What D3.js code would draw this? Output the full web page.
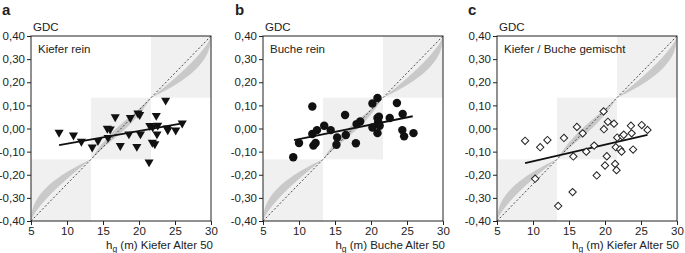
<!DOCTYPE html>
<html><head><meta charset="utf-8">
<script src="https://cdn.jsdelivr.net/npm/d3@7"></script>
<style>body{margin:0;background:#fff} svg text{font-family:"Liberation Sans",Arial,sans-serif;fill:#222}</style>
</head><body><svg id="chart" width="685" height="253"></svg>
<script>
const xTicks=[5,10,15,20,25,30];
const yTicks=[0.4,0.3,0.2,0.1,0,-0.1,-0.2,-0.3,-0.4];
const panelLetters=["a","b","c"];
const panelTitles=["Kiefer rein","Buche rein","Kiefer / Buche gemischt"];
const xTitles=[" (m) Kiefer Alter 50"," (m) Buche Alter 50"," (m) Kiefer Alter 50"];
const boxX=[5,13.333,21.667,30];
const boxY=[-0.4,-0.1333,0.1333,0.4];

const aX=[8.9,10.9,12.0,13.5,14.3,15.6,16.0,15.7,16.7,17.4,18.8,18.6,19.85,20.1,19.7,20.2,21.5,21.9,22.6,21.4,21.85,22.2,22.4,22.5,23.7,23.9,24.0,25.1,26.0];
const aY=[-0.017,-0.029,-0.056,-0.081,-0.053,0.0,-0.003,-0.039,0.05,-0.074,0.047,-0.024,0.066,0.06,-0.078,-0.024,0.012,0.007,0.014,-0.145,-0.06,-0.067,0.056,-0.024,0.122,0.002,-0.006,-0.007,0.023];
const aFitX=[8.9,26.0], aFitY=[-0.072,0.022];

const bX=[9.2,10.0,11.85,11.85,12.0,12.3,12.5,13.5,14.4,15.3,15.2,16.4,16.5,17.9,18.0,18.5,20.2,20.9,20.2,20.9,21.1,21.0,21.2,20.9,22.6,23.6,24.4,24.35,24.6,25.9];
const bY=[-0.124,-0.063,0.095,-0.024,-0.074,-0.063,-0.007,0.012,-0.007,-0.039,-0.07,0.058,-0.028,-0.064,0.019,0.03,0.108,0.132,0.004,0.045,0.051,0.027,0.012,-0.02,0.045,0.11,0.063,-0.007,-0.034,-0.02];
const bFitX=[9.3,25.8], bFitY=[-0.05,0.053];

const cX=[8.9,10.3,11.0,12.0,13.5,14.3,15.5,15.6,16.1,16.9,17.4,18.5,18.85,19.8,19.85,20.0,20.25,20.4,21.25,21.4,21.5,21.7,21.6,22.1,22.3,22.4,22.6,23.6,23.7,23.9,25.1,25.9];
const cY=[-0.053,-0.217,-0.081,-0.05,-0.335,-0.041,-0.275,-0.121,0.007,-0.021,-0.1,-0.074,-0.203,0.074,-0.003,-0.16,-0.12,0.029,0.021,-0.153,-0.081,-0.039,-0.18,-0.09,-0.1,-0.034,-0.027,0.012,-0.021,-0.091,0.015,-0.006];
const cFitX=[8.9,25.9], cFitY=[-0.15,-0.028];

const panels=[
 {x:aX,y:aY,fx:aFitX,fy:aFitY,marker:"tri"},
 {x:bX,y:bY,fx:bFitX,fy:bFitY,marker:"circle"},
 {x:cX,y:cY,fx:cFitX,fy:cFitY,marker:"diamond"}
];
const lefts=[31,263,497], W=180, plotTop=36, plotBottom=221;
const letterX=[2,235,468];

const svg=d3.select("#chart");

panels.forEach((p,i)=>{
  const x=d3.scaleLinear().domain([5,30]).range([lefts[i],lefts[i]+W]);
  const y=d3.scaleLinear().domain([-0.4,0.4]).range([plotBottom,plotTop]);
  const g=svg.append("g");
  for(let k=0;k<3;k++){
    g.append("rect").attr("x",x(boxX[k])).attr("y",y(boxY[k+1]))
     .attr("width",x(boxX[k+1])-x(boxX[k])).attr("height",y(boxY[k])-y(boxY[k+1]))
     .attr("fill","#f0f0f0");
  }
  const us=d3.range(0,1.0001,0.02);
  const bandDefs=[
    {k:0,outer:u=>Math.pow(u,0.45),inner:u=>Math.pow(u,0.75)},
    {k:1,outer:u=>u+0.56*u*(1-u)*(1-u),inner:u=>u-0.56*u*u*(1-u)},
    {k:2,outer:u=>1-Math.pow(1-u,0.45),inner:u=>1-Math.pow(1-u,0.75)}
  ];
  bandDefs.forEach(b=>{
    const x0=boxX[b.k],x1=boxX[b.k+1],y0=boxY[b.k],y1=boxY[b.k+1];
    const pts=us.map(u=>[x(x0+u*(x1-x0)),y(y0+b.outer(u)*(y1-y0))])
      .concat(us.slice().reverse().map(u=>[x(x0+u*(x1-x0)),y(y0+b.inner(u)*(y1-y0))]));
    g.append("path").attr("d",d3.line()(pts)+"Z").attr("fill","#c9c9c9");
  });
  g.append("line").attr("x1",x(5)).attr("y1",y(-0.4)).attr("x2",x(30)).attr("y2",y(0.4))
   .attr("stroke","#333").attr("stroke-width",0.9).attr("stroke-dasharray","2,2");
  g.append("rect").attr("x",x(5)).attr("y",y(0.4)).attr("width",W).attr("height",plotBottom-plotTop)
   .attr("fill","none").attr("stroke","#222").attr("stroke-width",1);
  const ya=d3.axisLeft(y).tickValues(yTicks).tickSize(4).tickPadding(2)
    .tickFormat(d=>d3.format(".2f")(d).replace("−","-").replace(".",","));
  const ga=g.append("g").attr("transform",`translate(${x(5)},0)`).call(ya);
  const xa=d3.axisBottom(x).tickValues(xTicks).tickSize(4).tickPadding(2);
  const gx=g.append("g").attr("transform",`translate(0,${plotBottom})`).call(xa);
  [ga,gx].forEach(a=>{a.select(".domain").remove();a.selectAll("line").attr("stroke","#222");
    a.selectAll("text").attr("font-size",11.5).attr("fill","#222").style("font-family","Liberation Sans, Arial, sans-serif");});
  g.append("line").attr("x1",x(p.fx[0])).attr("y1",y(p.fy[0])).attr("x2",x(p.fx[1])).attr("y2",y(p.fy[1]))
   .attr("stroke","#111").attr("stroke-width",1.8);
  const data=p.x.map((v,j)=>[v,p.y[j]]);
  const sel=g.append("g").selectAll("path").data(data).join("path")
    .attr("transform",d=>`translate(${x(d[0])},${y(d[1])})`+(p.marker==="tri"?" rotate(180)":p.marker==="diamond"?" rotate(45)":""));
  if(p.marker==="tri") sel.attr("d",d3.symbol(d3.symbolTriangle,36)()).attr("fill","#111");
  else if(p.marker==="circle") sel.attr("d",d3.symbol(d3.symbolCircle,56)()).attr("fill","#111");
  else sel.attr("d",d3.symbol(d3.symbolSquare,27)()).attr("fill","#fff").attr("stroke","#222").attr("stroke-width",1);
  g.append("text").attr("x",letterX[i]).attr("y",15).attr("font-size",15).attr("font-weight","bold").text(panelLetters[i]);
  g.append("text").attr("x",x(5)+2).attr("y",31).attr("font-size",11.5).text("GDC");
  g.append("text").attr("x",x(5)+7).attr("y",53).attr("font-size",11.5).text(panelTitles[i]);
  const t=g.append("text").attr("x",x(30)+2).attr("y",249).attr("font-size",11.5).attr("text-anchor","end");
  t.append("tspan").text("h");
  t.append("tspan").attr("font-size",8.5).attr("dy",3).text("g");
  t.append("tspan").attr("dy",-3).text(xTitles[i]);
});
</script></body></html>
